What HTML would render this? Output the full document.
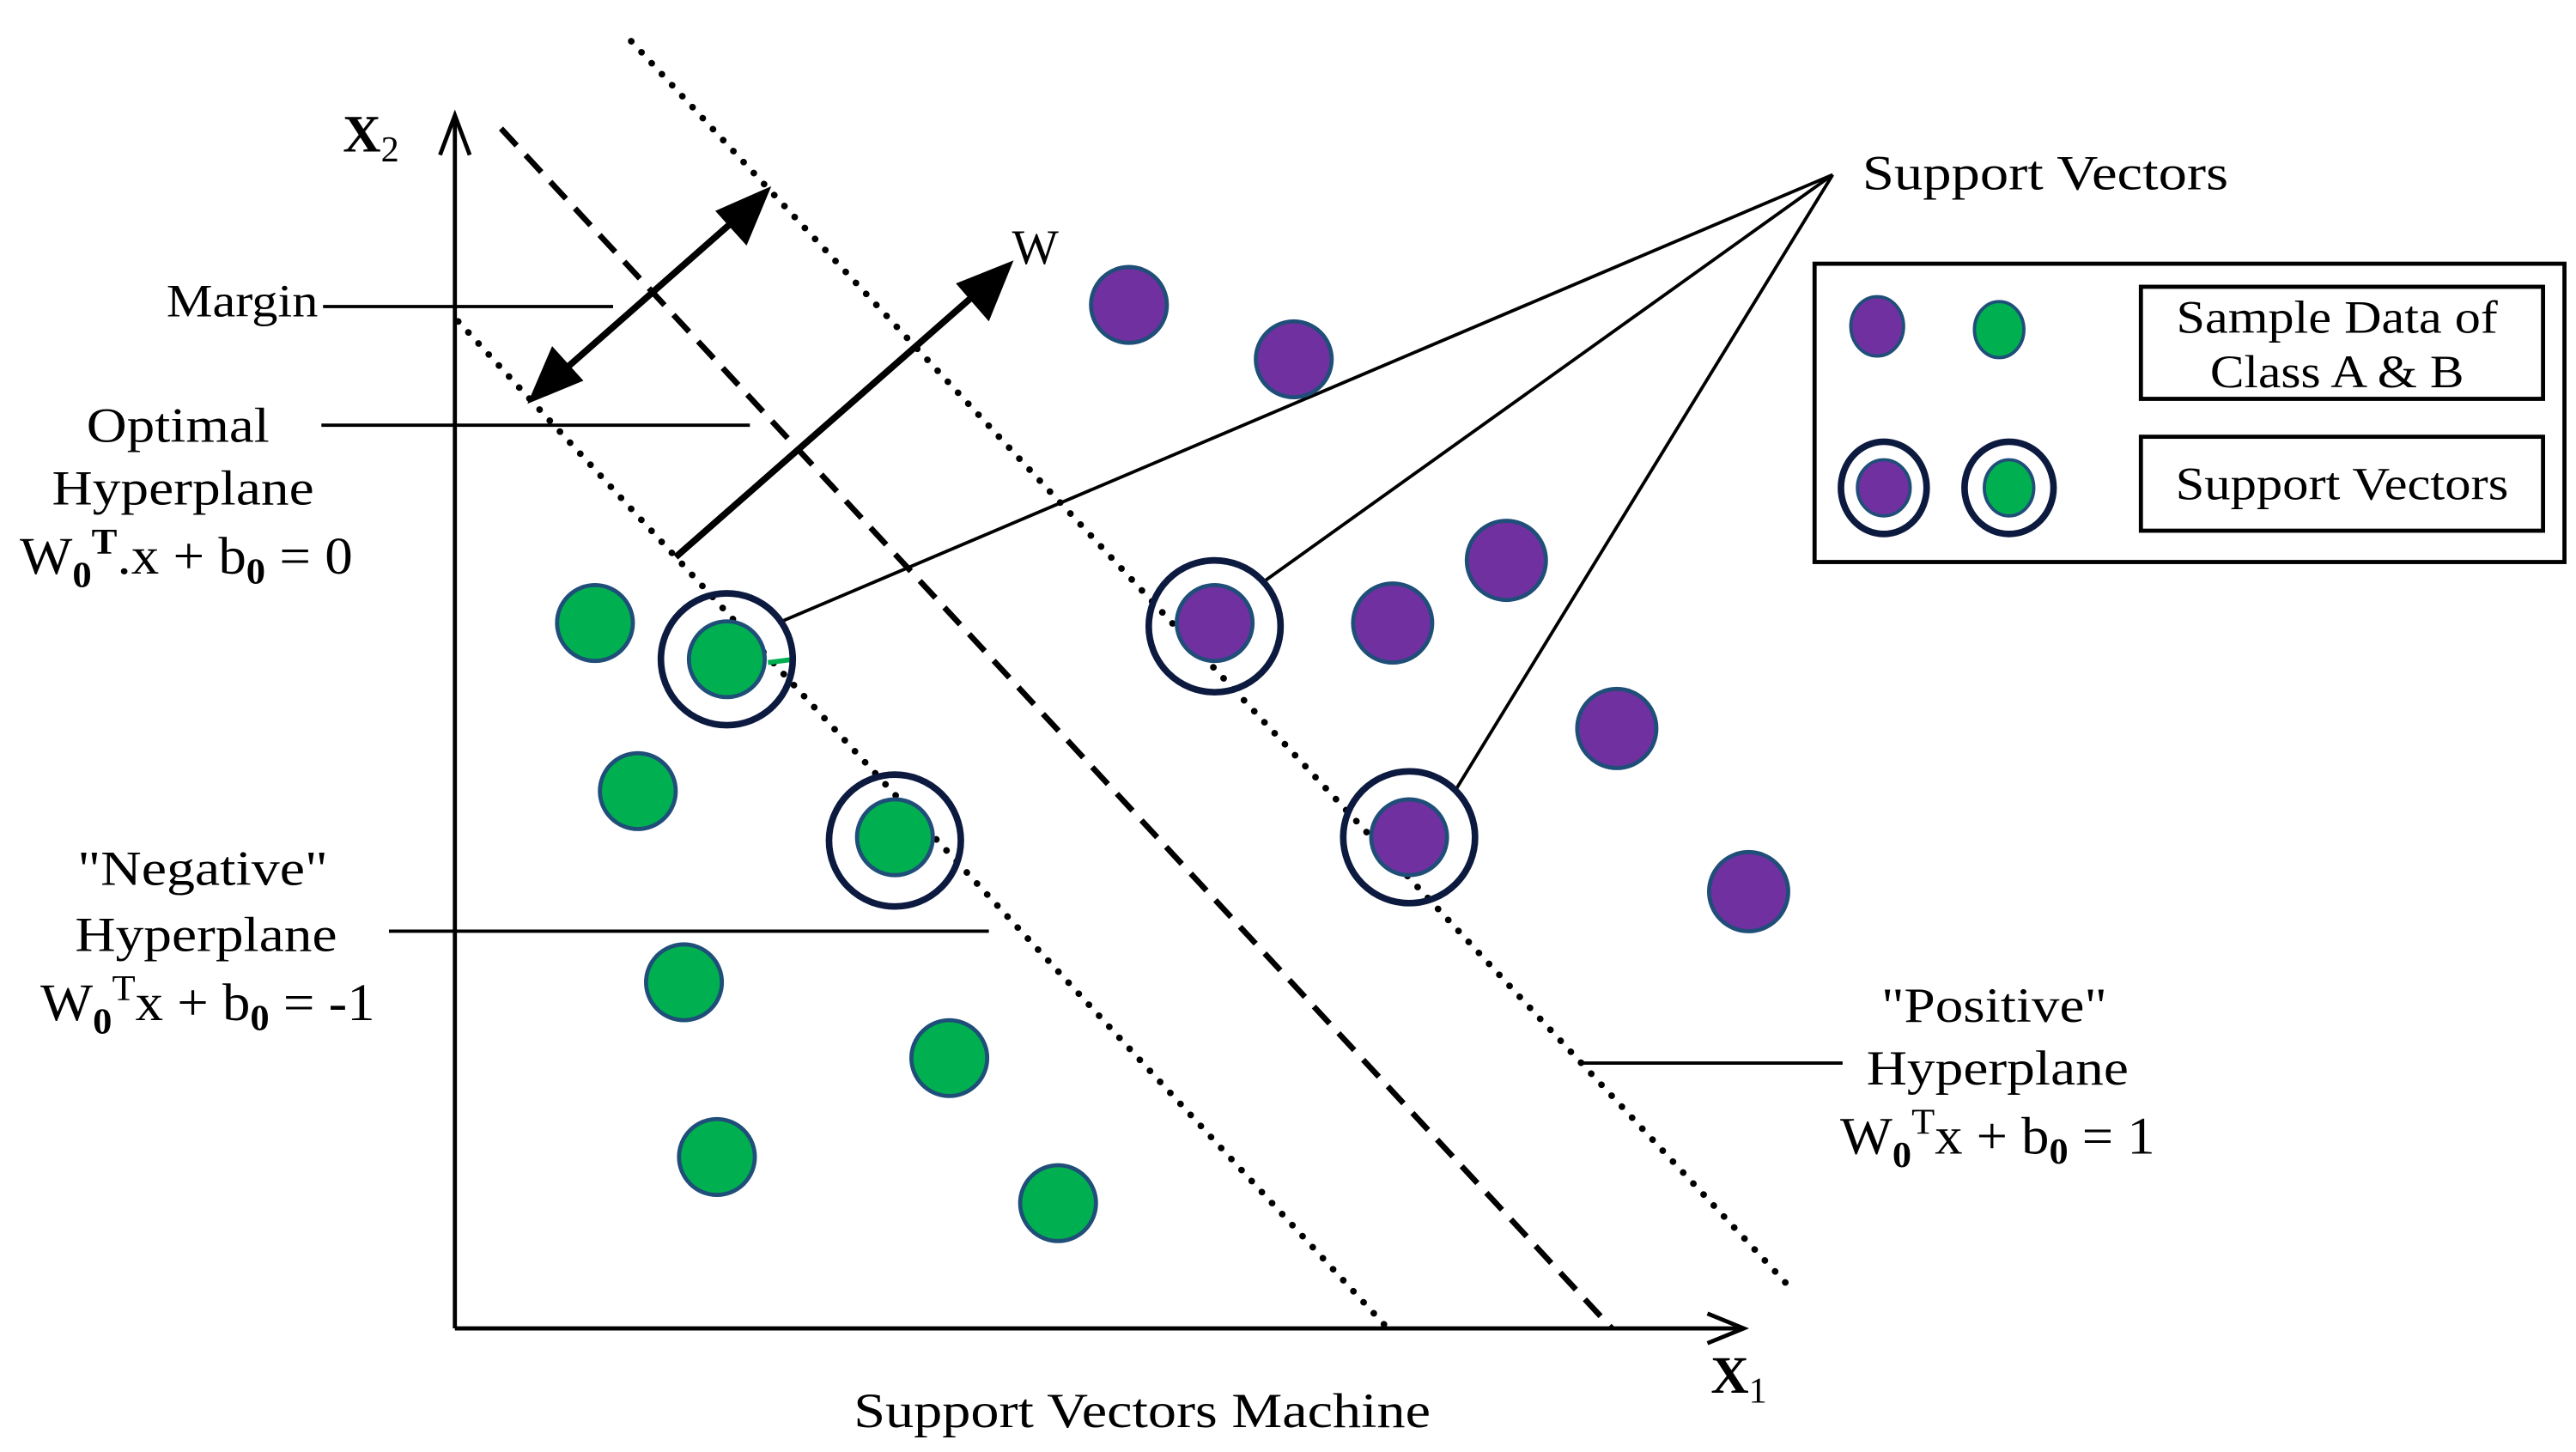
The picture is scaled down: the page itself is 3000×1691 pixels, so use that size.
<!DOCTYPE html>
<html><head><meta charset="utf-8"><style>html,body{margin:0;padding:0;background:#fff}svg{display:block}
svg text{font-family:"Liberation Serif","Times New Roman",serif;}</style></head>
<body>
<svg width="3000" height="1691" viewBox="0 0 1563 881" preserveAspectRatio="none" xmlns="http://www.w3.org/2000/svg" font-size="30">
<rect width="1563" height="881" fill="#fff"/>
<!-- hyperplanes -->
<line x1="383" y1="25" x2="1085" y2="780" stroke="#000" stroke-width="4" stroke-dasharray="0.1 9" stroke-linecap="round"/>
<line x1="278" y1="195" x2="842" y2="806" stroke="#000" stroke-width="4" stroke-dasharray="0.1 9" stroke-linecap="round"/>
<line x1="304" y1="78" x2="978" y2="806" stroke="#000" stroke-width="3.5" stroke-dasharray="14 8"/>
<!-- axes -->
<line x1="276" y1="72" x2="276" y2="806" stroke="#000" stroke-width="2.5"/>
<polyline points="267,94 276,70 285,94" fill="none" stroke="#000" stroke-width="2.5"/>
<line x1="276" y1="806" x2="1058" y2="806" stroke="#000" stroke-width="2.5"/>
<polyline points="1036,797 1058,806 1036,815" fill="none" stroke="#000" stroke-width="2.5"/>
<text x="208" y="92" font-size="32" font-weight="bold">X<tspan font-size="22" dy="6" font-weight="normal">2</tspan></text>
<text x="1038" y="845" font-size="32" font-weight="bold">X<tspan font-size="22" dy="6" font-weight="normal">1</tspan></text>
<!-- label lines -->
<line x1="196" y1="186" x2="372" y2="186" stroke="#000" stroke-width="2"/>
<line x1="195" y1="258" x2="455" y2="258" stroke="#000" stroke-width="2"/>
<line x1="236" y1="565" x2="600" y2="565" stroke="#000" stroke-width="2"/>
<line x1="958" y1="645" x2="1118" y2="645" stroke="#000" stroke-width="2"/>
<!-- margin arrow -->
<line x1="335" y1="231" x2="452" y2="128" stroke="#000" stroke-width="4"/>
<polygon points="468,113 453,149 434,128" fill="#000"/>
<polygon points="320,245 335,210 354,231" fill="#000"/>
<!-- W arrow -->
<line x1="410" y1="338" x2="598" y2="173" stroke="#000" stroke-width="4"/>
<polygon points="615,158 600,195 580,172" fill="#000"/>
<text x="614" y="160" font-size="30">W</text>
<!-- support vector pointer lines -->
<g stroke="#000" stroke-width="2">
<line x1="1112" y1="106" x2="472" y2="378"/>
<line x1="1112" y1="106" x2="768" y2="352"/>
<line x1="1112" y1="106" x2="884" y2="478"/>
</g>
<text x="1130" y="115" textLength="222" lengthAdjust="spacingAndGlyphs">Support Vectors</text>
<!-- points -->
<g stroke="#1f4e79" stroke-width="2.5">
<g fill="#00b050">
<circle cx="361" cy="378" r="23"/><circle cx="441" cy="400" r="23"/><circle cx="387" cy="480" r="23"/>
<circle cx="543" cy="508" r="23"/><circle cx="415" cy="596" r="23"/><circle cx="576" cy="642" r="23"/>
<circle cx="435" cy="702" r="23"/><circle cx="642" cy="730" r="23"/>
</g>
<g fill="#7030a0">
<circle cx="685" cy="185" r="23"/><circle cx="785" cy="218" r="23"/><circle cx="914" cy="340" r="24"/>
<circle cx="737" cy="378" r="23"/><circle cx="845" cy="378" r="24"/><circle cx="981" cy="442" r="24"/>
<circle cx="855" cy="508" r="23"/><circle cx="1061" cy="541" r="24"/>
</g>
</g>
<line x1="466" y1="402" x2="482" y2="400" stroke="#00b050" stroke-width="3"/>
<g fill="none" stroke="#0d1a40" stroke-width="4">
<circle cx="441" cy="400" r="40"/><circle cx="543" cy="510" r="40"/>
<circle cx="737" cy="380" r="40"/><circle cx="855" cy="508" r="40"/>
</g>
<!-- labels -->
<g text-anchor="middle">
<text x="147" y="192" font-size="28" textLength="92" lengthAdjust="spacingAndGlyphs">Margin</text>
<text x="108" y="268" textLength="111" lengthAdjust="spacingAndGlyphs">Optimal</text>
<text x="111" y="306" textLength="159" lengthAdjust="spacingAndGlyphs">Hyperplane</text>
<text x="113" y="348" font-size="32" textLength="202" lengthAdjust="spacingAndGlyphs">W<tspan font-size="22" font-weight="bold" dy="8">0</tspan><tspan font-size="22" font-weight="bold" dy="-20">T</tspan><tspan dy="12">.x + b</tspan><tspan font-size="22" font-weight="bold" dy="6">0</tspan><tspan dy="-6"> = 0</tspan></text>
<text x="123" y="537" textLength="152" lengthAdjust="spacingAndGlyphs">"Negative"</text>
<text x="125" y="577" textLength="159" lengthAdjust="spacingAndGlyphs">Hyperplane</text>
<text x="126" y="619" font-size="32" textLength="203" lengthAdjust="spacingAndGlyphs">W<tspan font-size="22" font-weight="bold" dy="8">0</tspan><tspan font-size="22" dy="-20">T</tspan><tspan dy="12">x + b</tspan><tspan font-size="22" font-weight="bold" dy="6">0</tspan><tspan dy="-6"> = -1</tspan></text>
<text x="1210" y="620" textLength="137" lengthAdjust="spacingAndGlyphs">"Positive"</text>
<text x="1212" y="658" textLength="159" lengthAdjust="spacingAndGlyphs">Hyperplane</text>
<text x="1212" y="700" font-size="32" textLength="191" lengthAdjust="spacingAndGlyphs">W<tspan font-size="22" font-weight="bold" dy="8">0</tspan><tspan font-size="22" dy="-20">T</tspan><tspan dy="12">x + b</tspan><tspan font-size="22" font-weight="bold" dy="6">0</tspan><tspan dy="-6"> = 1</tspan></text>
<text x="693" y="866" textLength="350" lengthAdjust="spacingAndGlyphs">Support Vectors Machine</text>
</g>
<!-- legend -->
<rect x="1101" y="160" width="455" height="181" fill="none" stroke="#000" stroke-width="2.5"/>
<rect x="1299" y="174" width="244" height="68" fill="none" stroke="#000" stroke-width="2.5"/>
<rect x="1299" y="265" width="244" height="57" fill="none" stroke="#000" stroke-width="2.5"/>
<g stroke="#1f4e79" stroke-width="2">
<ellipse cx="1139" cy="198" rx="16" ry="18" fill="#7030a0"/>
<ellipse cx="1213" cy="200" rx="15" ry="17" fill="#00b050"/>
<ellipse cx="1143" cy="296" rx="16" ry="17" fill="#7030a0"/>
<ellipse cx="1219" cy="296" rx="15" ry="17" fill="#00b050"/>
</g>
<g fill="none" stroke="#0d1a40" stroke-width="4">
<ellipse cx="1143" cy="296" rx="26" ry="28"/>
<ellipse cx="1219" cy="296" rx="27" ry="28"/>
</g>
<g text-anchor="middle" font-size="28">
<text x="1418" y="202" textLength="195" lengthAdjust="spacingAndGlyphs">Sample Data of</text>
<text x="1418" y="235" textLength="154" lengthAdjust="spacingAndGlyphs">Class A &amp; B</text>
<text x="1421" y="303" textLength="202" lengthAdjust="spacingAndGlyphs">Support Vectors</text>
</g>
</svg>
</body></html>
